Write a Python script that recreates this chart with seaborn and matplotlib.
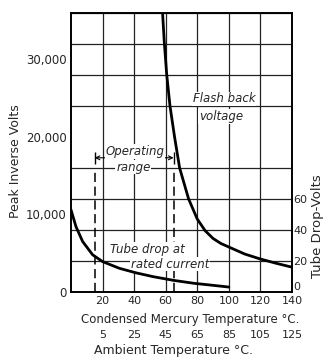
import pandas as pd
import matplotlib
matplotlib.use("Agg")
import matplotlib.pyplot as plt
from matplotlib.ticker import MultipleLocator, FuncFormatter
import seaborn as sns

sns.set_style("white")
plt.rcParams['font.family'] = ['DejaVu Sans']

# flash back voltage (peak inverse volts) vs condensed mercury temperature
flash_temp = [58, 59.1, 60.6, 62.7, 65.6, 68.8, 74.5, 80, 85, 90, 95, 100, 110, 120, 130, 140]
flash_volts = [36000, 32200, 28100, 24000, 20000, 16000, 12000, 9400, 7900, 6900, 6250, 5800, 4900, 4250, 3700, 3200]

# tube drop at rated current (volts, right axis)
drop_temp = [0, 3.2, 7.4, 13.7, 20, 30.6, 41, 52, 65, 78, 90, 100]
drop_volts = [53, 42, 32.5, 24, 19.6, 15.3, 12.4, 9.9, 7.5, 5.6, 4.3, 3.2]

# operating range, condensed temperature
op_range = [15, 65]

cond_ticks = [20, 40, 60, 80, 100, 120, 140]
amb_ticks = [5, 25, 45, 65, 85, 105, 125]
left_ticks = [0, 10000, 20000, 30000]
right_ticks = [0, 20, 40, 60]

flash_df = pd.DataFrame({'temp': flash_temp, 'volts': flash_volts})
drop_df = pd.DataFrame({'temp': drop_temp, 'volts': drop_volts})

fig = plt.figure(figsize=(3.23, 3.59), dpi=100)
ax = fig.add_axes([0.2198, 0.1866, 0.6842, 0.778])

sns.lineplot(data=flash_df, x='temp', y='volts', ax=ax, color='black', linewidth=2)
ax.set_xlim(0, 140)
ax.set_ylim(0, 36000)

# grid: every 20 deg, every 4000 volts
ax.set_xticks(cond_ticks)
ax.set_yticks(left_ticks)
ax.yaxis.set_minor_locator(MultipleLocator(4000))
ax.yaxis.set_major_formatter(FuncFormatter(lambda v, p: '{:,}'.format(int(v))))
ax.xaxis.grid(True, which='major', color='#222222', linewidth=0.9)
ax.yaxis.grid(True, which='minor', color='#222222', linewidth=0.9)
ax.yaxis.grid(False, which='major')
ax.tick_params(which='both', length=0)
ax.tick_params(axis='y', labelsize=8.5, pad=3)
ax.tick_params(axis='x', labelsize=8, pad=3)
for s in ax.spines.values():
    s.set_color('black')
    s.set_linewidth(1.2)

ax.set_xlabel('Condensed Mercury Temperature °C.', fontsize=8.5)
ax.xaxis.set_label_coords(0.54, -0.075)
ax.set_ylabel('Peak Inverse Volts', fontsize=9)
ax.yaxis.set_label_coords(-0.222, 0.47)

# operating range markers
ax.vlines(op_range, 0, 15500, colors='black', linestyles=(0, (6, 3)), linewidth=1.1)
ax.vlines(op_range, 16500, 18100, colors='black', linewidth=1)
ax.annotate('', xy=(op_range[0], 17300), xytext=(op_range[1], 17300),
            arrowprops=dict(arrowstyle='<->', lw=0.8, color='black',
                            shrinkA=0, shrinkB=0, mutation_scale=7))
box = dict(facecolor='white', edgecolor='none', pad=0.6)
ax.text(40.5, 18100, 'Operating', style='italic', fontsize=8.5, ha='center', va='center', bbox=box, zorder=5)
ax.text(39.5, 16100, 'range', style='italic', fontsize=8.5, ha='center', va='center', bbox=box, zorder=5)
ax.text(96.9, 24900, 'Flash back', style='italic', fontsize=8.5, ha='center', va='center', bbox=box, zorder=5)
ax.text(95, 22600, 'voltage', style='italic', fontsize=8.5, ha='center', va='center', bbox=box, zorder=5)
ax.text(48.5, 5500, 'Tube drop at', style='italic', fontsize=8.5, ha='center', va='center', bbox=box, zorder=5)
ax.text(62.7, 3600, 'rated current', style='italic', fontsize=8.5, ha='center', va='center', bbox=box, zorder=5)

# ambient temperature scale under the condensed one
sec = ax.secondary_xaxis(-0.135, functions=(lambda t: t - 15, lambda t: t + 15))
sec.set_xticks(amb_ticks)
sec.spines['bottom'].set_visible(False)
sec.tick_params(length=0, pad=0, labelsize=8)
ax.text(0.466, -0.208, 'Ambient Temperature °C.', transform=ax.transAxes,
        fontsize=9, ha='center', va='center')

# right axis: tube drop volts
ax2 = ax.twinx()
sns.lineplot(data=drop_df, x='temp', y='volts', ax=ax2, color='black', linewidth=2)
ax2.set_ylim(0, 180)
ax2.set_yticks(right_ticks)
ax2.tick_params(length=0, pad=1, labelsize=8)
ax2.set_ylabel('Tube Drop-Volts', fontsize=9.5)
ax2.yaxis.set_label_coords(1.085, 0.235)
for s in ax2.spines.values():
    s.set_color('black')
    s.set_linewidth(1.2)

# the right-hand "0" sits just above the corner, clear of the "140"
fig.canvas.draw()
ax2.yaxis.get_major_ticks()[0].label2.set_verticalalignment('bottom')

fig.savefig('out.png', dpi=100)
